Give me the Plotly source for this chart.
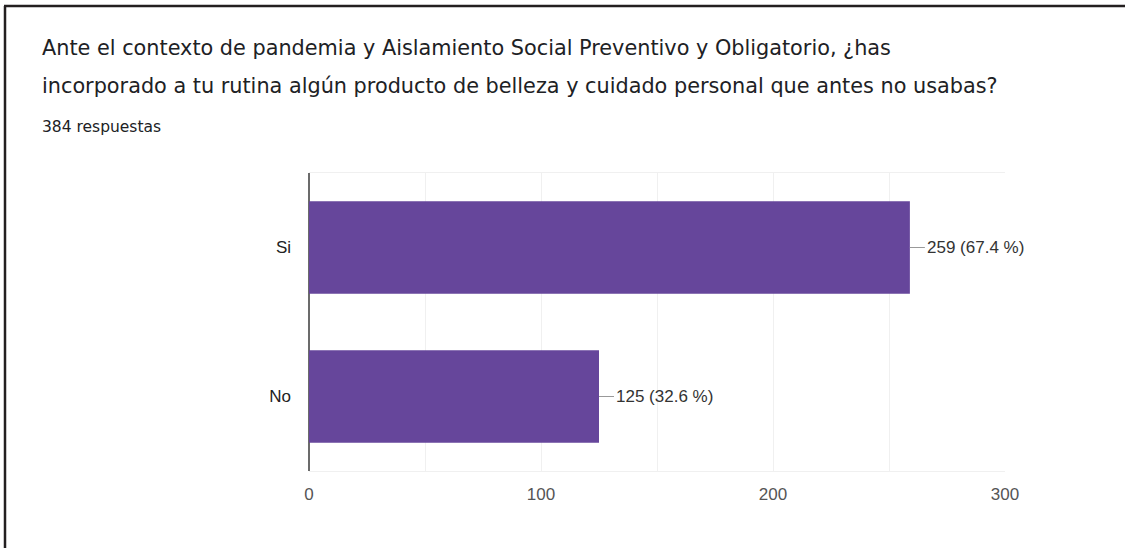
import plotly.graph_objects as go

# Survey answers
categories = ["Si", "No"]
counts = [259, 125]
percents = [67.4, 32.6]
total_responses = 384
x_ticks = [0, 100, 200, 300]

title_lines = [
    "Ante el contexto de pandemia y Aislamiento Social Preventivo y Obligatorio, ¿has",
    "incorporado a tu rutina algún producto de belleza y cuidado personal que antes no usabas?",
]

W, H = 1125, 548
L, R, T, B = 309, 120, 173, 77
PW, PH = W - L - R, H - T - B


def px(x):
    return (x - L) / PW


def py(y):
    return (H - B - y) / PH


BAR = "#66469b"
TXT = "#202124"

fig = go.Figure()
fig.add_trace(go.Bar(
    y=categories, x=counts, orientation="h",
    marker=dict(color=BAR, line=dict(width=0)),
    width=0.62, hoverinfo="skip",
))

annotations = []
for c, v, p in zip(categories, counts, percents):
    annotations.append(dict(
        x=v, y=c, xref="x", yref="y",
        text=f"{v} ({p} %)", showarrow=True, arrowhead=0, arrowwidth=1,
        arrowcolor="#999999", ax=15, ay=0, xanchor="left", standoff=0,
        font=dict(family="Arial", size=17, color="#333333"),
    ))

annotations.append(dict(
    x=px(40), y=py(48), xref="paper", yref="paper", xanchor="left", yanchor="middle",
    text=title_lines[0], showarrow=False,
    font=dict(family="DejaVu Sans", size=20.8, color=TXT),
))
annotations.append(dict(
    x=px(40), y=py(86), xref="paper", yref="paper", xanchor="left", yanchor="middle",
    text=title_lines[1], showarrow=False,
    font=dict(family="DejaVu Sans", size=20.8, color=TXT),
))
annotations.append(dict(
    x=px(40), y=py(127), xref="paper", yref="paper", xanchor="left", yanchor="middle",
    text=f"{total_responses} respuestas", showarrow=False,
    font=dict(family="DejaVu Sans", size=15.5, color=TXT),
))

shapes = [
    dict(type="line", xref="paper", yref="paper", x0=px(4), x1=px(1125),
         y0=py(6), y1=py(6), line=dict(color="#231f20", width=2.5)),
    dict(type="line", xref="paper", yref="paper", x0=px(5), x1=px(5),
         y0=py(6), y1=py(548), line=dict(color="#231f20", width=2.5)),
]

fig.update_layout(
    width=W, height=H,
    margin=dict(l=L, r=R, t=T, b=B),
    paper_bgcolor="white", plot_bgcolor="white",
    showlegend=False,
    annotations=annotations, shapes=shapes,
    xaxis=dict(
        range=[0, 300], tickvals=x_ticks, ticktext=[str(t) for t in x_ticks],
        showgrid=True, gridcolor="#f0f0f0", gridwidth=1,
        minor=dict(dtick=50, showgrid=True, gridcolor="#f0f0f0"),
        zeroline=True, zerolinecolor="#6b6b6b", zerolinewidth=2,
        showline=True, mirror=True, linecolor="#f0f0f0", linewidth=1,
        ticks="", ticklabelstandoff=8,
        tickfont=dict(family="Arial", size=17, color="#555555"),
        fixedrange=True,
    ),
    yaxis=dict(
        categoryorder="array", categoryarray=categories[::-1],
        range=[-0.5, 1.5], showgrid=False, zeroline=False,
        showline=False, ticks="", ticklabelstandoff=17,
        tickfont=dict(family="Arial", size=17, color="#222222"),
        fixedrange=True,
    ),
)

fig.write_html("out.html", config={"displayModeBar": False})
